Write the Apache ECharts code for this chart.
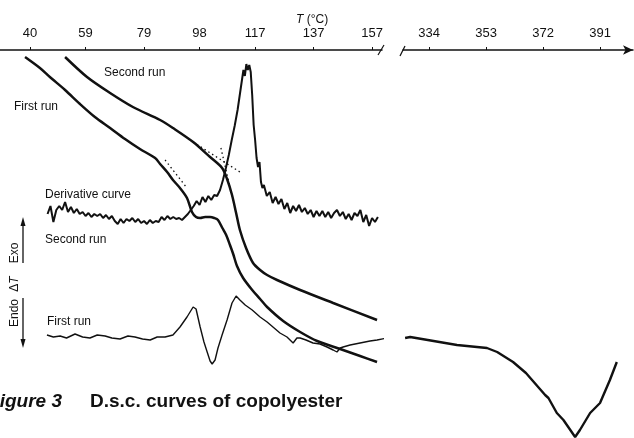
<!DOCTYPE html>
<html><head><meta charset="utf-8">
<script src="https://cdn.jsdelivr.net/npm/echarts@6/dist/echarts.min.js"></script>
<style>html,body{margin:0;padding:0;background:#fff;overflow:hidden}#c{width:634px;height:438px}</style>
</head><body><div id="c"></div>
<script>
// Tick labels (°C)
const leftTicks = [40, 59, 79, 98, 117, 137, 157];
const rightTicks = [334, 353, 372, 391];

// [T (°C), ΔT signal (arbitrary units)]
const firstRunIntegral = [[38.3,381],[43.4,370],[46.8,361],[52.0,348],[57.1,334],[62.2,321],[67.4,310],[72.5,299],[77.6,289],[82.8,280],[84.5,274],[86.9,266],[88.9,258],[91.3,250],[93.7,240],[95.4,226],[96.8,221],[98.2,220],[99.9,221],[101.6,221],[103.0,220],[104.3,218],[105.8,210],[107.1,203],[108.4,193],[109.5,184],[110.8,172],[112.9,160],[116.0,148],[118.7,139],[121.1,131],[126.6,117],[132.4,106],[138.2,97],[146.1,89],[152.9,82],[158.7,76]];

const secondRunIntegral = [[52.0,381],[59.5,361],[67.4,345],[75.2,331],[84.5,318],[88.9,310],[95.8,296],[101.6,281],[105.7,270],[107.4,259],[109.1,243],[110.5,225],[111.8,208],[113.9,190],[116.3,175],[118.7,168],[121.1,163],[124.5,158],[132.4,148],[143.7,135],[158.7,118]];

const derivativeCurve = [[46,224],[47,232],[48,216],[49,228],[50,232],[51,228],[52,236],[53,226],[54,231],[55,225],[56,229],[57,224],[58,226],[59,222],[60,225],[61,221],[62,224],[63,222],[64,224],[65,220],[66,223],[67,219],[68,222],[69,217],[70,214],[71,219],[72,215],[73,219],[74,217],[75,220],[76,216],[77,219],[78,215],[79,217],[80,214],[81,218],[82,215],[83,217],[84,216],[85,221],[86,218],[87,222],[88,219],[89,221],[90,219],[91,220],[92,218],[93,221],[94,224],[95,228],[96,232],[97,237],[98,233],[99,241],[100,236],[101,242],[102,238],[103,243],[104,242],[105,248],[106,258],[107,270],[108,283],[109,298],[110,312],[111,328],[112,348],[113,368],[113.5,362],[114,374],[114.5,368],[115,373],[115.5,366],[116,343],[116.5,313],[117,298],[117.5,280],[118,271],[118.5,276],[119,256],[119.5,250],[120,253],[121,242],[122,246],[123,235],[124,241],[125,234],[126,239],[127,229],[128,235],[129,225],[130,232],[131,227],[132,233],[133,226],[134,230],[135,224],[136,228],[137,221],[138,227],[139,222],[140,227],[141,221],[142,226],[143,220],[144,225],[145,228],[146,222],[147,226],[148,219],[149,224],[150,218],[151,225],[152,222],[153,228],[154,216],[155,223],[156,212],[157,220],[158,216],[159,221]];

const firstRunDTA = [[45.8,103],[48.0,101],[50.3,102],[52.5,100],[55.4,104],[58.0,101],[60.5,100],[63.0,103],[65.7,102],[68.0,100],[70.8,99],[73.5,102],[75.9,101],[78.5,99],[81.1,98],[83.5,101],[86.2,101],[88.9,103],[91.3,111],[93.7,121],[95.8,131],[96.8,129],[98.2,111],[99.5,96],[100.6,86],[101.6,77],[102.3,74],[103.3,78],[104.3,90],[105.7,103],[107.4,118],[109.1,135],[110.5,142],[111.8,138],[113.6,133],[116.0,128],[118.7,121],[121.1,116],[123.1,111],[125.5,105],[127.9,101],[130.0,95],[131.3,100],[132.4,100],[134.4,98],[136.8,95],[139.2,94],[141.6,91],[143.7,88],[145.0,86],[146.1,90],[147.1,91],[149.5,93],[152.9,95],[156.3,97],[158.7,98],[162.1,100]];

const highTempCurve = [[326.0,100],[327.7,101],[343.3,93],[353.3,90],[356.7,86],[362.0,76],[366.3,65],[372.7,43],[373.3,44.7],[373.8,40],[376.6,25],[378.8,18],[382.7,1],[384.3,8],[387.7,25],[391.0,35],[394.3,58],[396.6,76]];

const tangentFirst = [[86.2,278],[93.7,250]];
const tangentSecondA = [[95.8,296],[111.8,266]];
const tangentSecondB = [[105.3,290],[108.4,251]];

const ink = '#111';
const FONT = '"Liberation Sans", Arial, sans-serif';
const chart = echarts.init(document.getElementById('c'), null, {renderer: 'canvas'});

function curve(data, width, xi, extra) {
  return Object.assign({
    type: 'line', data: data, xAxisIndex: xi, yAxisIndex: xi,
    showSymbol: false, symbol: 'none', silent: true,
    lineStyle: {color: ink, width: width}
  }, extra || {});
}
function dotted(data) {
  return curve(data, 1.3, 0, {lineStyle: {color: ink, width: 1.3, type: [1.5, 3]}});
}
function txt(x, y, s, size, extra) {
  return Object.assign({
    type: 'text', x: x, y: y, silent: true,
    style: {text: s, fill: ink, font: size + 'px ' + FONT, textVerticalAlign: 'middle'}
  }, extra || {});
}

const axisCommon = {
  type: 'value', position: 'top',
  axisLine: {onZero: false, lineStyle: {color: ink, width: 1.5}},
  axisTick: {length: 3, lineStyle: {color: ink, width: 1}},
  axisLabel: {color: ink, fontSize: 13, margin: 10, fontFamily: FONT},
  splitLine: {show: false}
};

chart.setOption({
  animation: false,
  backgroundColor: '#fff',
  grid: [
    {left: 0, top: 50, width: 382, height: 388},
    {left: 403, top: 50, width: 230, height: 388}
  ],
  xAxis: [
    echarts.util.merge({gridIndex: 0, min: 29.74, max: 160.4,
      axisTick: {customValues: leftTicks}, axisLabel: {customValues: leftTicks}}, axisCommon),
    echarts.util.merge({gridIndex: 1, min: 325.3, max: 402,
      axisLine: {symbol: ['none', 'arrow'], symbolSize: [7, 10]},
      axisTick: {customValues: rightTicks}, axisLabel: {customValues: rightTicks}}, axisCommon)
  ],
  yAxis: [
    {gridIndex: 0, type: 'value', min: 0, max: 388, show: false},
    {gridIndex: 1, type: 'value', min: 0, max: 388, show: false}
  ],
  series: [
    curve(firstRunIntegral, 2.5, 0, {smooth: 0.3}),
    curve(secondRunIntegral, 2.5, 0, {smooth: 0.3}),
    curve(derivativeCurve, 2, 0),
    curve(firstRunDTA, 1.4, 0, {clip: false}),
    dotted(tangentFirst), dotted(tangentSecondA), dotted(tangentSecondB),
    curve(highTempCurve, 2.4, 1, {clip: false})
  ],
  graphic: [
    // axis break marks
    {type: 'line', shape: {x1: 378, y1: 55, x2: 384, y2: 45}, style: {stroke: ink, lineWidth: 1.2}, silent: true},
    {type: 'line', shape: {x1: 400, y1: 56, x2: 405, y2: 46}, style: {stroke: ink, lineWidth: 1.2}, silent: true},
    // axis title
    {type: 'text', x: 296, y: 20, silent: true,
      style: {text: '{i|T} (°C)', fill: ink, font: '12px ' + FONT, textVerticalAlign: 'middle',
        rich: {i: {fontStyle: 'italic', fontSize: 12, fontFamily: FONT, fill: ink}}}},
    // curve labels
    txt(104, 73, 'Second run', 12),
    txt(14, 107, 'First run', 12),
    txt(45, 195, 'Derivative curve', 12),
    txt(45, 240, 'Second run', 12),
    txt(47, 322, 'First run', 12),
    // vertical ΔT label
    txt(15, 253, 'Exo', 12, {rotation: Math.PI / 2, style: {text: 'Exo', fill: ink, font: '12px ' + FONT, textAlign: 'center', textVerticalAlign: 'middle'}}),
    {type: 'text', x: 15, y: 284, rotation: Math.PI / 2, silent: true,
      style: {text: 'Δ{i|T}', fill: ink, font: '12px ' + FONT, textAlign: 'center', textVerticalAlign: 'middle',
        rich: {i: {fontStyle: 'italic', fontSize: 12, fontFamily: FONT, fill: ink}}}},
    txt(15, 313, 'Endo', 12, {rotation: Math.PI / 2, style: {text: 'Endo', fill: ink, font: '12px ' + FONT, textAlign: 'center', textVerticalAlign: 'middle'}}),
    {type: 'line', shape: {x1: 23, y1: 263, x2: 23, y2: 224}, style: {stroke: ink, lineWidth: 1.3}, silent: true},
    {type: 'polygon', shape: {points: [[23, 217], [20.5, 226], [25.5, 226]]}, style: {fill: ink}, silent: true},
    {type: 'line', shape: {x1: 23, y1: 298, x2: 23, y2: 340}, style: {stroke: ink, lineWidth: 1.3}, silent: true},
    {type: 'polygon', shape: {points: [[23, 348], [20.5, 339], [25.5, 339]]}, style: {fill: ink}, silent: true},
    // caption
    {type: 'text', x: 62, y: 402, silent: true,
      style: {text: 'Figure 3', fill: ink, font: 'italic bold 19px ' + FONT, textAlign: 'right', textVerticalAlign: 'middle'}},
    {type: 'text', x: 90, y: 402, silent: true,
      style: {text: 'D.s.c. curves of copolyester', fill: ink, font: 'bold 19px ' + FONT, textVerticalAlign: 'middle'}}
  ]
});
</script></body></html>
